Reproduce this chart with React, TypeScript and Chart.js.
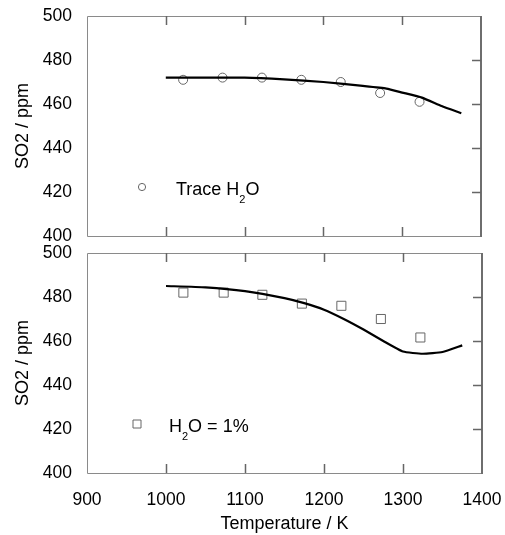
import { useEffect, useRef } from "react";
import { Chart, registerables } from "chart.js";

Chart.register(...registerables);

const xTicks = [900, 1000, 1100, 1200, 1300, 1400];
const yTicks = [400, 420, 440, 460, 480, 500];

const traceExpT = [1022, 1072, 1122, 1172, 1222, 1272, 1322];
const traceExpSO2 = [471, 472, 472, 471, 470, 465, 461];
const traceModelT = [1000, 1050, 1100, 1150, 1200, 1250, 1280, 1300, 1325, 1350, 1375];
const traceModelSO2 = [472, 472, 472, 471.2, 470, 468.2, 467, 465.2, 462.9, 459.1, 455.8];

const wetExpT = [1022, 1073, 1122, 1172, 1222, 1272, 1322];
const wetExpSO2 = [482, 482, 481, 477, 476, 470, 461.6];
const wetModelT = [1000, 1050, 1100, 1150, 1175, 1200, 1225, 1250, 1275, 1300, 1325, 1350, 1375];
const wetModelSO2 = [485, 484.4, 482.7, 479.5, 477.2, 474.2, 470, 465.2, 460, 455.2, 454.2, 455, 458];

const FONT = "'Liberation Sans', Arial, Helvetica, sans-serif";
const TICK_FS = 17.5;
const TITLE_FS = 18;

const toXY = (xs: number[], ys: number[]) => xs.map((x, i) => ({ x, y: ys[i] }));

const zeroPad = (s: any) => {
  s.paddingTop = 0;
  s.paddingBottom = 0;
  s.paddingLeft = 0;
  s.paddingRight = 0;
};

function framePlugin(legend: { kind: "circle" | "rect"; parts: { t: string; sub?: boolean }[]; mx: number; my: number; tx: number; ty: number }) {
  return {
    id: "frame",
    afterDraw(chart: any) {
      const { ctx, chartArea: a, scales } = chart;
      const xs = scales.x;
      const ys = scales.y;
      ctx.save();
      ctx.strokeStyle = "#8a8a8a";
      ctx.lineWidth = 1;
      ctx.beginPath();
      ctx.moveTo(a.right, a.top + 0.5);
      ctx.lineTo(a.left + 0.5, a.top + 0.5);
      ctx.lineTo(a.left + 0.5, a.bottom + 0.5);
      ctx.lineTo(a.right, a.bottom + 0.5);
      ctx.stroke();
      ctx.strokeStyle = "#6e6e6e";
      ctx.lineWidth = 2;
      ctx.beginPath();
      ctx.moveTo(a.right, a.top);
      ctx.lineTo(a.right, a.bottom + 1);
      ctx.stroke();
      ctx.strokeStyle = "#666";
      ctx.lineWidth = 1.5;
      const L = 9;
      ctx.beginPath();
      xTicks.slice(1, -1).forEach((v) => {
        const px = Math.round(xs.getPixelForValue(v)) + 0.5;
        ctx.moveTo(px, a.top);
        ctx.lineTo(px, a.top + L);
        ctx.moveTo(px, a.bottom);
        ctx.lineTo(px, a.bottom - L);
      });
      yTicks.slice(1, -1).forEach((v) => {
        const py = Math.round(ys.getPixelForValue(v)) + 0.5;
        ctx.moveTo(a.right, py);
        ctx.lineTo(a.right - L, py);
      });
      ctx.stroke();
      ctx.strokeStyle = "#666";
      ctx.lineWidth = 1;
      ctx.beginPath();
      if (legend.kind === "circle") {
        ctx.arc(legend.mx, legend.my, 3.6, 0, Math.PI * 2);
      } else {
        ctx.rect(legend.mx - 4, legend.my - 4, 8, 8);
      }
      ctx.stroke();
      ctx.fillStyle = "#000";
      ctx.textBaseline = "alphabetic";
      ctx.textAlign = "left";
      let x = legend.tx;
      legend.parts.forEach((p) => {
        if (p.sub) {
          ctx.font = `11px ${FONT}`;
          ctx.fillText(p.t, x, legend.ty + 8);
        } else {
          ctx.font = `${TITLE_FS}px ${FONT}`;
          ctx.fillText(p.t, x, legend.ty);
        }
        x += ctx.measureText(p.t).width;
      });
      ctx.restore();
    },
  };
}

function makeY(title: string) {
  return {
    type: "linear" as const,
    min: 400,
    max: 500,
    afterFit: (s: any) => {
      s.width = 87;
      zeroPad(s);
    },
    grid: { display: false, drawTicks: false },
    border: { display: false },
    ticks: { stepSize: 20, padding: 15, color: "#000", font: { family: FONT, size: TICK_FS }, callback: (v: any) => String(v) },
    title: { display: true, text: title, color: "#000", font: { family: FONT, size: TITLE_FS }, padding: { top: 12, bottom: 0 } },
  };
}

export default function App() {
  const topRef = useRef<HTMLCanvasElement>(null);
  const botRef = useRef<HTMLCanvasElement>(null);

  useEffect(() => {
    const top = new Chart(topRef.current!, {
      type: "scatter",
      data: {
        datasets: [
          {
            type: "line",
            data: toXY(traceModelT, traceModelSO2),
            borderColor: "#000",
            borderWidth: 2.2,
            pointRadius: 0,
            tension: 0.15,
            fill: false,
          } as any,
          {
            data: toXY(traceExpT, traceExpSO2),
            pointStyle: "circle",
            pointRadius: 4.5,
            borderColor: "#666",
            backgroundColor: "rgba(0,0,0,0)",
            borderWidth: 1,
          },
        ],
      },
      options: {
        responsive: false,
        animation: false,
        events: [],
        layout: { padding: { left: 0, right: 24, top: 16, bottom: 9 } },
        plugins: { legend: { display: false }, tooltip: { enabled: false } },
        scales: {
          x: { type: "linear", min: 900, max: 1400, display: false, afterFit: zeroPad } as any,
          y: makeY("SO2 / ppm") as any,
        },
      },
      plugins: [
        framePlugin({
          kind: "circle",
          mx: 142,
          my: 187,
          tx: 176,
          ty: 195,
          parts: [{ t: "Trace H" }, { t: "2", sub: true }, { t: "O" }],
        }),
      ],
    });

    const bot = new Chart(botRef.current!, {
      type: "scatter",
      data: {
        datasets: [
          {
            type: "line",
            data: toXY(wetModelT, wetModelSO2),
            borderColor: "#000",
            borderWidth: 2.2,
            pointRadius: 0,
            tension: 0.15,
            fill: false,
          } as any,
          {
            data: toXY(wetExpT, wetExpSO2),
            pointStyle: "rect",
            pointRadius: 6.4,
            borderColor: "#666",
            backgroundColor: "rgba(0,0,0,0)",
            borderWidth: 1,
          },
        ],
      },
      options: {
        responsive: false,
        animation: false,
        events: [],
        layout: { padding: { left: 0, right: 23, top: 8, bottom: 0 } },
        plugins: { legend: { display: false }, tooltip: { enabled: false } },
        scales: {
          x: {
            type: "linear",
            min: 900,
            max: 1400,
            afterFit: (s: any) => {
              s.height = 62;
              zeroPad(s);
            },
            grid: { display: false, drawTicks: false },
            border: { display: false },
            ticks: { stepSize: 100, padding: 17, color: "#000", font: { family: FONT, size: TICK_FS }, callback: (v: any) => String(v) },
            title: {
              display: true,
              text: "Temperature / K",
              color: "#000",
              font: { family: FONT, size: TITLE_FS },
              padding: { top: 0, bottom: 0 },
            },
          },
          y: makeY("SO2 / ppm") as any,
        },
      },
      plugins: [
        framePlugin({
          kind: "rect",
          mx: 137,
          my: 424 - 245,
          tx: 169,
          ty: 432 - 245,
          parts: [{ t: "H" }, { t: "2", sub: true }, { t: "O = 1%" }],
        }),
      ],
    });

    return () => {
      top.destroy();
      bot.destroy();
    };
  }, []);

  return (
    <div style={{ position: "absolute", left: 0, top: 0, width: 505, height: 535, background: "#fff" }}>
      <canvas ref={topRef} width={505} height={245} style={{ position: "absolute", left: 0, top: 0 }} />
      <canvas ref={botRef} width={505} height={290} style={{ position: "absolute", left: 0, top: 245 }} />
    </div>
  );
}
